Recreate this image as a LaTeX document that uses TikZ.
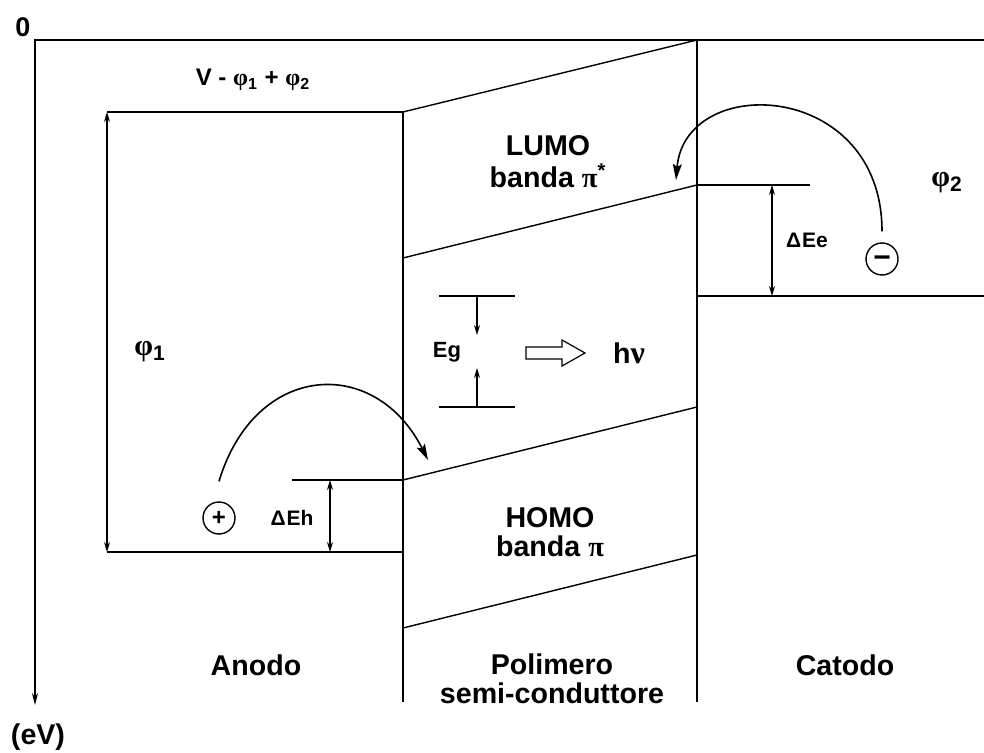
\documentclass[tikz,border=0pt]{standalone}
\usepackage{fontspec}
\setmainfont{Liberation Sans}
\newfontfamily\grk{Liberation Serif}
\usetikzlibrary{arrows.meta}

\tikzset{
  band/.style={line width=0.7pt},
  level/.style={line width=0.6pt},
  dimarrow/.style={line width=0.6pt, {Stealth[length=5pt,width=3pt]}-{Stealth[length=5pt,width=3pt]}},
  egarrow/.style={line width=0.6pt, -{Stealth[length=5pt,width=3pt]}},
  hop/.style={line width=0.8pt, -{Stealth[length=8pt,width=4.5pt,inset=1.5pt]}},
  charge/.style={draw, circle, line width=0.7pt, minimum size=16pt, inner sep=0pt, font=\bfseries\fontsize{12}{12}\selectfont},
  biglbl/.style={font=\bfseries\fontsize{14.3}{14.5}\selectfont, align=center, inner sep=0pt},
  midlbl/.style={font=\bfseries\fontsize{11}{11}\selectfont, inner sep=0pt},
  smalllbl/.style={font=\bfseries\fontsize{10.5}{10.5}\selectfont, inner sep=0pt}
}
\newcommand{\gphi}{{\grk\bfseries φ}}

\begin{document}
\begin{tikzpicture}[x=0.5pt,y=-0.5pt]
\useasboundingbox (0,0) rectangle (984,753);
% energy axis and vacuum level
\draw[band, -{Stealth[length=6pt,width=3pt]}] (984,40) -- (35,40) -- (35,705);
\node[biglbl, font=\bfseries\fontsize{13.5}{13.5}\selectfont] (zero) at (23,27) {0};
\node[biglbl] (ev) at (38,737) {(eV)};
% band corners of the polymer
\coordinate (lumoTL) at (403,112);
\coordinate (lumoTR) at (697,40);
\coordinate (lumoBL) at (403,258);
\coordinate (lumoBR) at (697,185);
\coordinate (homoTL) at (403,480);
\coordinate (homoTR) at (697,407);
\coordinate (homoBL) at (403,628);
\coordinate (homoBR) at (697,555);
\draw[band] (lumoTL) -- (lumoTR);
\draw[band] (lumoBL) -- (lumoBR);
\draw[band] (homoTL) -- (homoTR);
\draw[band] (homoBL) -- (homoBR);
\draw[line width=1.1pt] (lumoTL) -- (lumoBL);
\draw[band] (lumoBL) -- (403,702);
\draw[band] (lumoTR) -- (697,702);
% anode levels
\coordinate (anTop) at (107,112);
\coordinate (anBot) at (107,552);
\draw[level] (anTop) -- (lumoTL);
\draw[level] (anBot) -- (403,552);
\draw[dimarrow] (anTop) -- (anBot);
\node[biglbl, font=\bfseries\fontsize{15}{15}\selectfont] (phi1) at (150,352) {\gphi\textsubscript{1}};
\node[smalllbl, font=\bfseries\fontsize{12}{12}\selectfont] (vlbl) at (253,80) {V - \gphi\textsubscript{1} + \gphi\textsubscript{2}};
% hole injection
\coordinate (dehTop) at (330,480);
\coordinate (dehBot) at (330,552);
\draw[level] (292,480) -- (homoTL);
\draw[dimarrow] (dehTop) -- (dehBot);
\node[smalllbl] (deh) at (292,518) {Δ\kern0.5pt Eh};
\node[charge] (plus) at (219,518) {+};
\coordinate (holeEnd) at (428,460);
\draw[hop] ([yshift=10pt]plus.north) .. controls (255,362) and (375,355) .. (holeEnd);
% cathode levels
\coordinate (deeTop) at (772,185);
\coordinate (deeBot) at (772,296);
\draw[level] (lumoBR) -- (810,185);
\draw[level] (697,296) -- (984,296);
\draw[dimarrow] (deeTop) -- (deeBot);
\node[smalllbl] (dee) at (807,240) {Δ\kern0.5pt Ee};
\node[biglbl, font=\bfseries\fontsize{15}{15}\selectfont] (phi2) at (947,183) {\gphi\textsubscript{2}};
\node[charge, font=\bfseries\fontsize{15}{15}\selectfont] (minus) at (882,259) {\smash{\raisebox{-4.3pt}{−}}};
\coordinate (elecEnd) at (676,180);
\draw[hop] ([yshift=5.5pt]minus.north) .. controls (882,80) and (685,72) .. (elecEnd);
% gap and emission
\coordinate (egTop) at (477,296);
\coordinate (egBot) at (477,407);
\draw[level] (439,296) -- (515,296);
\draw[level] (439,407) -- (515,407);
\draw[egarrow] (egTop) -- (477,335);
\draw[egarrow] (egBot) -- (477,368);
\node[midlbl] (eg) at (447,352) {Eg};
\draw[line width=0.6pt] (526,347) -- (562,347) -- (562,340) -- (585,353)
  -- (562,366) -- (562,359) -- (526,359) -- cycle;
\node[biglbl] (hnu) at (629,353) {h{\grk\bfseries\fontsize{16}{16}\selectfont ν}};
% band and region labels
\node[biglbl, font=\bfseries\fontsize{14.3}{16}\selectfont] (lumo) at (548,162) {LUMO\\banda {\grk\bfseries π}\textsuperscript{*}};
\node[biglbl] (homo) at (550,532) {HOMO\\banda {\grk\bfseries π}};
\node[biglbl] (anodo) at (256,665) {Anodo};
\node[biglbl] (poly) at (552,679) {Polimero\\semi-conduttore};
\node[biglbl] (catodo) at (845,665) {Catodo};
\end{tikzpicture}
\end{document}
